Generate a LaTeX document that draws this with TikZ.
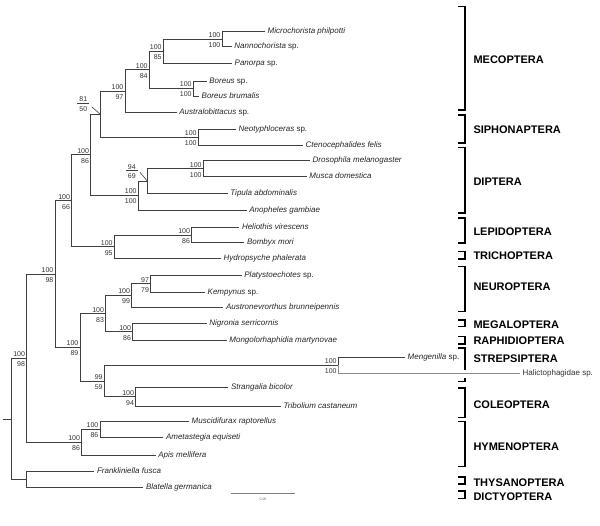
\documentclass[tikz,border=0pt]{standalone}
\usepackage{fontspec}
\setmainfont{Liberation Sans}
\usetikzlibrary{calc}
\newcommand{\bsl}[3]{%
  \node[bstop] (#1-t) at ($(#1)+(-1.5,-1.5)$) {#2};
  \node[bstop] (#1-b) at ($(#1)+(-1.5,8.5)$) {#3};}
\newcommand{\cladebr}[5]{%
  \draw[clade] (458.3,#2) -- (465,#2) -- (465,#3) -- (458.3,#3);
  \node[cladelab] (#1) at (473.3,#4) {#5};}
\begin{document}
\begin{tikzpicture}[x=1pt,y=-1pt,
  br/.style={draw=black!75, line width=0.8pt},
  leaf/.style={anchor=west, inner xsep=2.5pt, inner ysep=0pt, font=\fontsize{8}{9}\selectfont, text=black!85, text height=5.8pt, text depth=1.6pt},
  bs/.style={inner sep=0pt, font=\fontsize{7}{8}\selectfont, text=black!80},
  bstop/.style={bs, anchor=base east},
  clade/.style={draw=black, line width=1.6pt},
  cladelab/.style={anchor=west, inner sep=0pt, font=\fontsize{11}{13}\selectfont\bfseries}
]
\useasboundingbox (0,0) rectangle (600,526);
\fill[white] (0,0) rectangle (600,526);

% ---------- tips ----------
\node[leaf] (t1) at (265,31.7) {\itshape Microchorista philpotti};
\node[leaf] (t2) at (231.7,46.7) {\itshape Nannochorista\upshape\ sp.};
\node[leaf] (t3) at (232,63) {\itshape Panorpa\upshape\ sp.};
\node[leaf] (t4) at (206.7,81) {\itshape Boreus\upshape\ sp.};
\node[leaf] (t5) at (199,96) {\itshape Boreus brumalis};
\node[leaf] (t6) at (176.7,112.7) {\itshape Australobittacus\upshape\ sp.};
\node[leaf] (t7) at (236,129) {\itshape Neotyphloceras\upshape\ sp.};
\node[leaf] (t8) at (303,145) {\itshape Ctenocephalides felis};
\node[leaf] (t9) at (310,160.7) {\itshape Drosophila melanogaster};
\node[leaf] (t10) at (306.7,176.7) {\itshape Musca domestica};
\node[leaf] (t11) at (227.7,193.3) {\itshape Tipula abdominalis};
\node[leaf] (t12) at (246.7,210) {\itshape Anopheles gambiae};
\node[leaf] (t13) at (239.3,227.3) {\itshape Heliothis virescens};
\node[leaf] (t14) at (244.3,242.7) {\itshape Bombyx mori};
\node[leaf] (t15) at (221,258.3) {\itshape Hydropsyche phalerata};
\node[leaf] (t16) at (241.7,275) {\itshape Platystoechotes\upshape\ sp.};
\node[leaf] (t17) at (205,292.3) {\itshape Kempynus\upshape\ sp.};
\node[leaf] (t18) at (223.3,307.3) {\itshape Austronevrorthus brunneipennis};
\node[leaf] (t19) at (206.7,323.3) {\itshape Nigronia serricornis};
\node[leaf] (t20) at (226.7,340) {\itshape Mongolorhaphidia martynovae};
\node[leaf] (t21) at (405,357.3) {\itshape Mengenilla\upshape\ sp.};
\node[leaf, text=black!80] (t22) at (520,373.3) {Halictophagidae sp.};
\node[leaf] (t23) at (228.3,387.3) {\itshape Strangalia bicolor};
\node[leaf] (t24) at (281,406) {\itshape Tribolium castaneum};
\node[leaf] (t25) at (189,421.7) {\itshape Muscidifurax raptorellus};
\node[leaf] (t26) at (163.3,437.3) {\itshape Ametastegia equiseti};
\node[leaf] (t27) at (155.7,455) {\itshape Apis mellifera};
\node[leaf] (t28) at (94.3,471.7) {\itshape Frankliniella fusca};
\node[leaf] (t29) at (143.3,487.7) {\itshape Blatella germanica};

% ---------- internal nodes ----------
\coordinate (nmn) at (222,39.2);
\coordinate (npan) at (163.3,51.1);
\coordinate (nbor) at (193.3,88.5);
\coordinate (nmeca) at (149.3,69.8);
\coordinate (nmec) at (125,91.2);
\coordinate (nsip) at (198.3,137);
\coordinate (nms) at (100,114.1);
\coordinate (ndm) at (203.3,168.7);
\coordinate (ndt) at (147.3,181);
\coordinate (ndip) at (138.3,195.5);
\coordinate (nant) at (90.7,154.8);
\coordinate (nlep) at (191.7,235);
\coordinate (namph) at (114.3,246.7);
\coordinate (nmcp) at (71.7,200.7);
\coordinate (npk) at (150.7,283.7);
\coordinate (nneu) at (131.7,295.5);
\coordinate (nmr) at (132.7,331.7);
\coordinate (nnpt) at (105.7,313.6);
\coordinate (nstr) at (338.3,365.3);
\coordinate (ncol) at (135.7,396.7);
\coordinate (nsc) at (104.3,381);
\coordinate (nx) at (80,347.3);
\coordinate (nhol) at (55,274);
\coordinate (nma) at (100,429.5);
\coordinate (nhym) at (81.7,442.3);
\coordinate (nholo) at (26.7,358);
\coordinate (nout) at (26,479.7);
\coordinate (root) at (11,419);
\coordinate (rootend) at (3,419);

% ---------- branches ----------
\draw[br] (nmn) |- (t1.west);
\draw[br] (nmn) |- (t2.west);
\draw[br] (npan) |- (nmn);
\draw[br] (npan) |- (t3.west);
\draw[br] (nbor) |- (t4.west);
\draw[br] (nbor) |- (t5.west);
\draw[br] (nmeca) |- (npan);
\draw[br] (nmeca) |- (nbor);
\draw[br] (nmec) |- (nmeca);
\draw[br] (nmec) |- (t6.west);
\draw[br] (nsip) |- (t7.west);
\draw[br] (nsip) |- (t8.west);
\draw[br] (nms) |- (nmec);
\draw[br] (nms) |- (nsip);
\draw[br] (ndm) |- (t9.west);
\draw[br] (ndm) |- (t10.west);
\draw[br] (ndt) |- (ndm);
\draw[br] (ndt) |- (t11.west);
\draw[br] (ndip) |- (ndt);
\draw[br] (ndip) |- (t12.west);
\draw[br] (nant) |- (nms);
\draw[br] (nant) |- (ndip);
\draw[br] (nlep) |- (t13.west);
\draw[br] (nlep) |- (t14.west);
\draw[br] (namph) |- (nlep);
\draw[br] (namph) |- (t15.west);
\draw[br] (nmcp) |- (nant);
\draw[br] (nmcp) |- (namph);
\draw[br] (npk) |- (t16.west);
\draw[br] (npk) |- (t17.west);
\draw[br] (nneu) |- (npk);
\draw[br] (nneu) |- (t18.west);
\draw[br] (nmr) |- (t19.west);
\draw[br] (nmr) |- (t20.west);
\draw[br] (nnpt) |- (nneu);
\draw[br] (nnpt) |- (nmr);
\draw[br] (nstr) |- (t21.west);
\draw[br, draw=black!45] (nstr) |- (t22.west);
\draw[br] (ncol) |- (t23.west);
\draw[br] (ncol) |- (t24.west);
\draw[br] (nsc) |- (nstr);
\draw[br] (nsc) |- (ncol);
\draw[br] (nx) |- (nnpt);
\draw[br] (nx) |- (nsc);
\draw[br] (nhol) |- (nmcp);
\draw[br] (nhol) |- (nx);
\draw[br] (nma) |- (t25.west);
\draw[br] (nma) |- (t26.west);
\draw[br] (nhym) |- (nma);
\draw[br] (nhym) |- (t27.west);
\draw[br] (nholo) |- (nhol);
\draw[br] (nholo) |- (nhym);
\draw[br] (nout) |- (t28.west);
\draw[br] (nout) |- (t29.west);
\draw[br] (root) |- (nholo);
\draw[br] (root) |- (nout);
\draw[br] (root) -- (rootend);

% ---------- support values ----------
\bsl{nmn}{100}{100}
\bsl{npan}{100}{85}
\bsl{nbor}{100}{100}
\bsl{nmeca}{100}{84}
\bsl{nmec}{100}{97}
\bsl{nsip}{100}{100}
\bsl{nant}{100}{86}
\bsl{ndm}{100}{100}
\bsl{ndip}{100}{100}
\bsl{nmcp}{100}{66}
\bsl{nlep}{100}{86}
\bsl{namph}{100}{95}
\bsl{nhol}{100}{98}
\bsl{npk}{97}{79}
\bsl{nneu}{100}{99}
\bsl{nnpt}{100}{83}
\bsl{nmr}{100}{86}
\bsl{nx}{100}{89}
\bsl{nstr}{100}{100}
\bsl{ncol}{100}{94}
\bsl{nsc}{99}{59}
\bsl{nholo}{100}{98}
\bsl{nma}{100}{86}
\bsl{nhym}{100}{86}

% fraction-style labels with pointers
\node[bs, anchor=base] (fa) at (83.3,101.7) {81};
\node[bs, anchor=base] (fb) at (83.3,111.7) {50};
\draw[br, line width=0.6pt] (77.3,103.4) -- (89.3,103.4);
\coordinate (pa) at (91.7,106.7);
\draw[br, line width=0.6pt] (pa) -- (nms);
\node[bs, anchor=base] (fc) at (131.8,169.3) {94};
\node[bs, anchor=base] (fd) at (131.8,179) {69};
\draw[br, line width=0.6pt] (126,170.8) -- (138.3,170.8);
\coordinate (pb) at (140,172.3);
\draw[br, line width=0.6pt] (pb) -- (ndt);

% ---------- scale bar ----------
\coordinate (sba) at (231,493.3);
\coordinate (sbb) at (295,493.3);
\draw[draw=black!50, line width=1pt] (sba) -- (sbb);
\node[inner sep=0pt, font=\fontsize{3.5}{4}\selectfont, text=black!60] (sbl) at (263,499) {0.05};

% ---------- order brackets ----------
\cladebr{c1}{6.7}{110}{60}{MECOPTERA}
\cladebr{c2}{115}{143.3}{130}{SIPHONAPTERA}
\cladebr{c3}{147.7}{213.3}{181.7}{DIPTERA}
\cladebr{c4}{218.3}{243}{231.7}{LEPIDOPTERA}
\cladebr{c5}{251.7}{259}{255.7}{TRICHOPTERA}
\cladebr{c6}{266.7}{311.7}{286.7}{NEUROPTERA}
\cladebr{c7}{320}{326.7}{325}{MEGALOPTERA}
\cladebr{c8}{336.5}{344}{340.7}{RAPHIDIOPTERA}
\draw[clade] (458.3,348.3) -- (465,348.3) -- (465,370);
\draw[clade] (465,378) -- (465,381.7) -- (458.3,381.7);
\node[cladelab] (c9) at (473.3,359) {STREPSIPTERA};
\cladebr{c10}{388.3}{417.5}{405}{COLEOPTERA}
\cladebr{c11}{421.7}{466.7}{446.7}{HYMENOPTERA}
\cladebr{c12}{477.3}{484.3}{482.3}{THYSANOPTERA}
\cladebr{c13}{490.7}{498.3}{496.7}{DICTYOPTERA}
\end{tikzpicture}
\end{document}
